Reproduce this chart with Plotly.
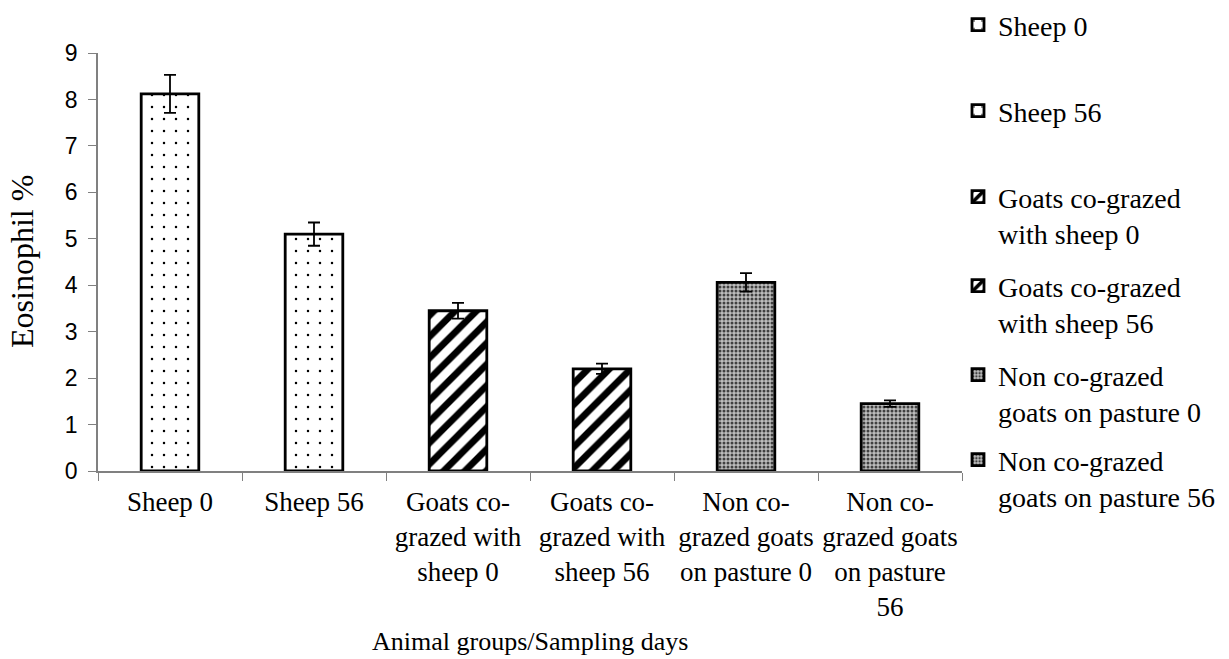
import plotly.graph_objects as go

categories = [
    "Sheep 0",
    "Sheep 56",
    "Goats co-<br>grazed with<br>sheep 0",
    "Goats co-<br>grazed with<br>sheep 56",
    "Non co-<br>grazed goats<br>on pasture 0",
    "Non co-<br>grazed goats<br>on pasture<br>56",
]
legend_labels = [
    "Sheep 0",
    "Sheep 56",
    "Goats co-grazed<br>with sheep 0",
    "Goats co-grazed<br>with sheep 56",
    "Non co-grazed<br>goats on pasture 0",
    "Non co-grazed<br>goats on pasture 56",
]
values = [8.12, 5.1, 3.45, 2.2, 4.06, 1.45]
errors = [0.41, 0.25, 0.17, 0.11, 0.2, 0.07]
y_ticks = [0, 1, 2, 3, 4, 5, 6, 7, 8, 9]

SERIF = "Liberation Serif, Times New Roman, serif"
SANS = "Liberation Sans, Arial, sans-serif"

patterns = [
    dict(shape=".", fgcolor="black", bgcolor="white", size=12, solidity=0.035, fgopacity=1),
    dict(shape=".", fgcolor="black", bgcolor="white", size=12, solidity=0.035, fgopacity=1),
    dict(shape="/", fgcolor="black", bgcolor="white", size=15, solidity=0.45, fgopacity=1),
    dict(shape="/", fgcolor="black", bgcolor="white", size=15, solidity=0.45, fgopacity=1),
    dict(shape=".", fgcolor="#404040", bgcolor="#bdbdbd", size=4, solidity=0.45, fgopacity=1),
    dict(shape=".", fgcolor="#404040", bgcolor="#bdbdbd", size=4, solidity=0.45, fgopacity=1),
]

# first-line pixel centres of legend entries
legend_y_px = [27, 113, 199, 288, 377, 462]

PLOT_L, PLOT_R = 98, 962
PLOT_T, PLOT_B = 53, 471
PW = PLOT_R - PLOT_L
PH = PLOT_B - PLOT_T

fig = go.Figure()
layout_legends = {}
for i in range(6):
    lname = "legend" if i == 0 else f"legend{i+1}"
    fig.add_trace(go.Bar(
        x=[categories[i]], y=[values[i]],
        name=legend_labels[i],
        width=0.40,
        opacity=1,
        marker=dict(color="white", opacity=1, line=dict(color="black", width=2.8), pattern=patterns[i]),
        error_y=dict(type="data", array=[errors[i]], color="black", thickness=1.8, width=6),
        legend=lname,
    ))
    ytop = legend_y_px[i] - 27
    layout_legends[lname] = dict(
        x=(958 - PLOT_L) / PW, xanchor="left",
        y=(PLOT_B - ytop) / PH, yanchor="top",
        valign="top",
        font=dict(family=SERIF, size=28, color="black"),
        bgcolor="rgba(0,0,0,0)",
        itemwidth=30,
    )

fig.update_layout(
    width=1229, height=659,
    font=dict(family=SERIF, size=26, color="black"),
    margin=dict(l=PLOT_L, r=1229 - PLOT_R, t=PLOT_T, b=659 - PLOT_B, autoexpand=False),
    plot_bgcolor="white", paper_bgcolor="white",
    barmode="overlay",
    showlegend=True,
    annotations=[
        dict(text="Animal groups/Sampling days", xref="paper", yref="paper",
             x=0.5, y=(PLOT_B - 641) / PH, xanchor="center", yanchor="middle",
             showarrow=False, font=dict(family=SERIF, size=26, color="black")),
        dict(text="Eosinophil %", xref="paper", yref="paper",
             x=(22 - PLOT_L) / PW, y=0.5, xanchor="center", yanchor="middle",
             textangle=-90, showarrow=False,
             font=dict(family=SERIF, size=32, color="black")),
    ],
    **layout_legends,
)
fig.update_xaxes(
    categoryorder="array", categoryarray=categories,
    showline=True, linecolor="#808080", linewidth=1.5,
    ticks="outside", tickson="boundaries", ticklen=8, tickcolor="#808080",
    showgrid=False, tickangle=0, automargin=False,
    ticklabelstandoff=6,
    tickfont=dict(family=SERIF, size=27, color="black"),
)
fig.update_yaxes(
    range=[0, 9], tickvals=y_ticks,
    showline=True, linecolor="#808080", linewidth=1.5,
    ticks="outside", ticklen=8, tickcolor="#808080",
    showgrid=False, zeroline=False, automargin=False,
    ticklabelstandoff=6,
    tickfont=dict(family=SANS, size=23, color="black"),
)

fig.write_html("out.html", config={"displayModeBar": False},
               post_script="document.body.style.margin='0px';")
